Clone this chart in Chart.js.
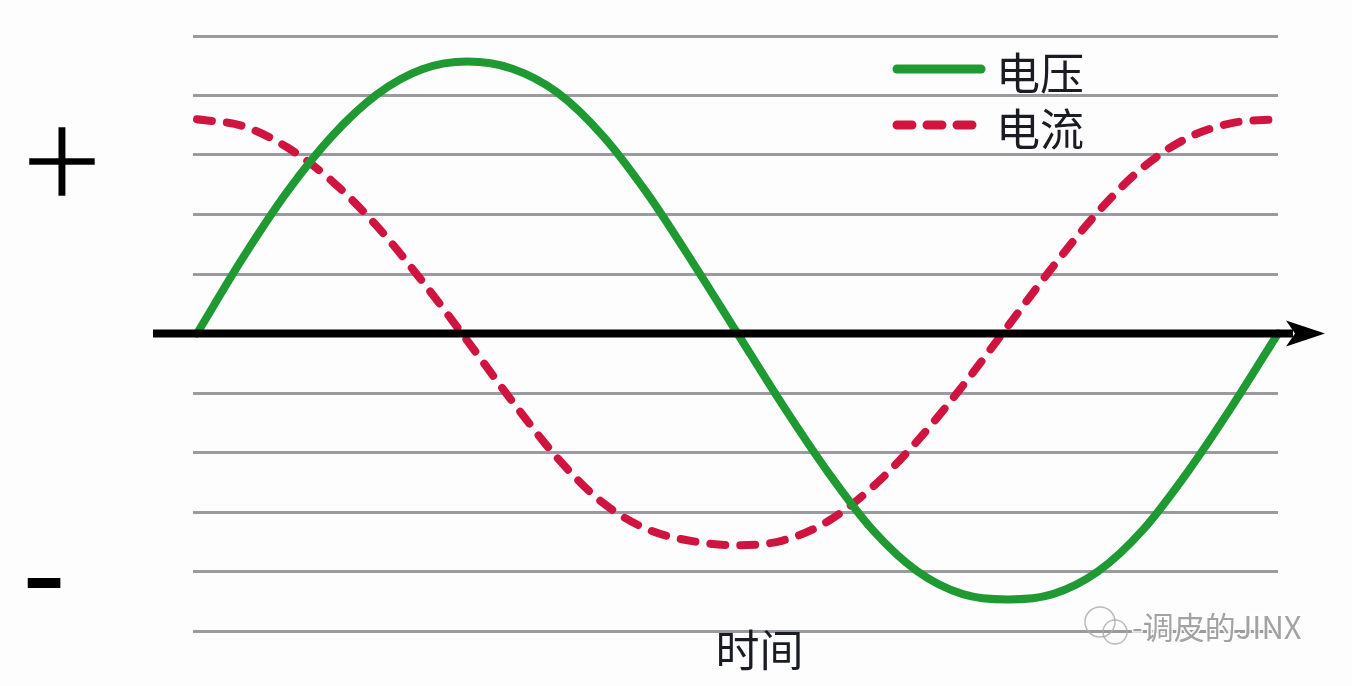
<!DOCTYPE html>
<html>
<head>
<meta charset="utf-8">
<script src="https://cdn.jsdelivr.net/npm/chart.js@4/dist/chart.umd.min.js"></script>
<style>
html,body{margin:0;padding:0;background:#fdfdfd;}
canvas{display:block;}
</style>
</head>
<body>
<canvas id="c" width="1352" height="686"></canvas>
<script>
// Phase angle (degrees) and value (grid units)
const phaseX = [0, 15, 30, 45, 60, 75, 90, 105, 120, 135, 150, 165, 180, 195, 210, 225, 240, 255, 270, 285, 300, 315, 330, 345, 360];
const voltageY = [0, 1.25, 2.38, 3.32, 4.02, 4.44, 4.57, 4.45, 4.05, 3.33, 2.35, 1.2, 0, -1.2, -2.32, -3.3, -4.0, -4.38, -4.47, -4.38, -4.0, -3.3, -2.32, -1.2, 0];
const currentY = [3.6, 3.49, 3.13, 2.56, 1.8, 0.88, -0.12, -1.14, -2.09, -2.84, -3.29, -3.49, -3.56, -3.48, -3.16, -2.58, -1.8, -0.88, 0.12, 1.12, 2.04, 2.79, 3.29, 3.54, 3.6];
const seriesLabels = ['电压', '电流'];
const xAxisTitle = '时间';
const plusLabel = '+';
const minusLabel = '-';
const watermark = '-调皮的JINX';

const GREEN = '#1f9a33';
const RED = '#d01440';
const CJK = '"Noto Sans CJK SC", "Noto Sans", sans-serif';

const toPts = (xs, ys) => xs.map((x, i) => ({x: x, y: ys[i]}));

const decor = {
  id: 'decor',
  beforeDraw(chart) {
    const ctx = chart.ctx;
    ctx.save();
    ctx.fillStyle = '#fdfdfd';
    ctx.fillRect(0, 0, chart.width, chart.height);
    ctx.restore();
  },
  afterDatasetsDraw(chart) {
    const ctx = chart.ctx;
    const a = chart.chartArea;
    const ys = chart.scales.y;
    const y0 = ys.getPixelForValue(0);
    ctx.save();
    // black time axis with arrow
    ctx.strokeStyle = '#000';
    ctx.lineWidth = 8;
    ctx.lineCap = 'butt';
    ctx.beginPath();
    ctx.moveTo(a.left - 40, y0);
    ctx.lineTo(a.right + 15, y0);
    ctx.stroke();
    ctx.fillStyle = '#000';
    ctx.beginPath();
    ctx.moveTo(a.right + 47, y0);
    ctx.lineTo(a.right + 8, y0 - 13);
    ctx.lineTo(a.right + 17, y0);
    ctx.lineTo(a.right + 8, y0 + 13);
    ctx.closePath();
    ctx.fill();

    // legend
    const ds = chart.data.datasets;
    const lx = 897, lw = 84;
    const rows = [69, 125];
    ds.forEach((d, i) => {
      const yy = rows[i];
      ctx.strokeStyle = d.borderColor;
      ctx.lineWidth = 9;
      ctx.lineCap = 'round';
      ctx.setLineDash(d.borderDash || []);
      ctx.beginPath();
      ctx.moveTo(lx, yy);
      ctx.lineTo(lx + lw, yy);
      ctx.stroke();
      ctx.setLineDash([]);
      ctx.fillStyle = '#1b1b24';
      ctx.font = '44px ' + CJK;
      ctx.textAlign = 'left';
      ctx.textBaseline = 'middle';
      ctx.fillText(d.label, 996, yy + 4);
    });

    // x axis title
    ctx.fillStyle = '#1b1b24';
    ctx.font = '44px ' + CJK;
    ctx.textAlign = 'center';
    ctx.textBaseline = 'middle';
    ctx.fillText(xAxisTitle, (a.left + a.right) / 2 + 24, a.bottom + 19);

    // + and -
    ctx.fillStyle = '#000';
    ctx.strokeStyle = '#000';
    ctx.lineWidth = 1.6;
    ctx.font = '300 136px Lato, "DejaVu Sans", sans-serif';
    ctx.textBaseline = 'middle';
    ctx.fillText(plusLabel, 62, 163);
    ctx.strokeText(plusLabel, 62, 163);
    ctx.font = '400 132px Lato, "DejaVu Sans", sans-serif';
    ctx.fillText(minusLabel, 44, 580);

    // watermark (icon outline + text)
    ctx.strokeStyle = 'rgba(170,170,170,0.8)';
    ctx.lineWidth = 1.5;
    ctx.beginPath();
    ctx.arc(1100, 622, 15, 0, Math.PI * 2);
    ctx.stroke();
    ctx.beginPath();
    ctx.arc(1115, 632, 12, 0, Math.PI * 2);
    ctx.stroke();
    ctx.font = '31px ' + CJK;
    ctx.textAlign = 'left';
    ctx.lineWidth = 3;
    ctx.strokeStyle = 'rgba(255,255,255,0.9)';
    ctx.strokeText(watermark, 1132, a.bottom - 4);
    ctx.fillStyle = 'rgba(140,140,140,0.8)';
    ctx.fillText(watermark, 1132, a.bottom - 4);
    ctx.restore();
  }
};

new Chart(document.getElementById('c'), {
  type: 'line',
  data: {
    datasets: [
      {
        label: seriesLabels[0],
        data: toPts(phaseX, voltageY),
        borderColor: GREEN,
        borderWidth: 8,
        borderCapStyle: 'round',
        pointRadius: 0,
        cubicInterpolationMode: 'monotone',
        clip: false,
        fill: false
      },
      {
        label: seriesLabels[1],
        data: toPts(phaseX, currentY),
        borderColor: RED,
        borderWidth: 8,
        borderCapStyle: 'round',
        borderDash: [15, 15],
        pointRadius: 0,
        cubicInterpolationMode: 'monotone',
        clip: false,
        fill: false
      }
    ]
  },
  options: {
    responsive: false,
    animation: false,
    layout: {padding: {left: 193, right: 74, top: 36, bottom: 55}},
    plugins: {legend: {display: false}, tooltip: {enabled: false}},
    scales: {
      x: {type: 'linear', min: -1.33, max: 360, display: false},
      y: {
        min: -5, max: 5,
        ticks: {display: false, stepSize: 1},
        grid: {color: '#9b9b9f', lineWidth: 3, drawTicks: false},
        border: {display: false}
      }
    }
  },
  plugins: [decor]
});
</script>
</body>
</html>
